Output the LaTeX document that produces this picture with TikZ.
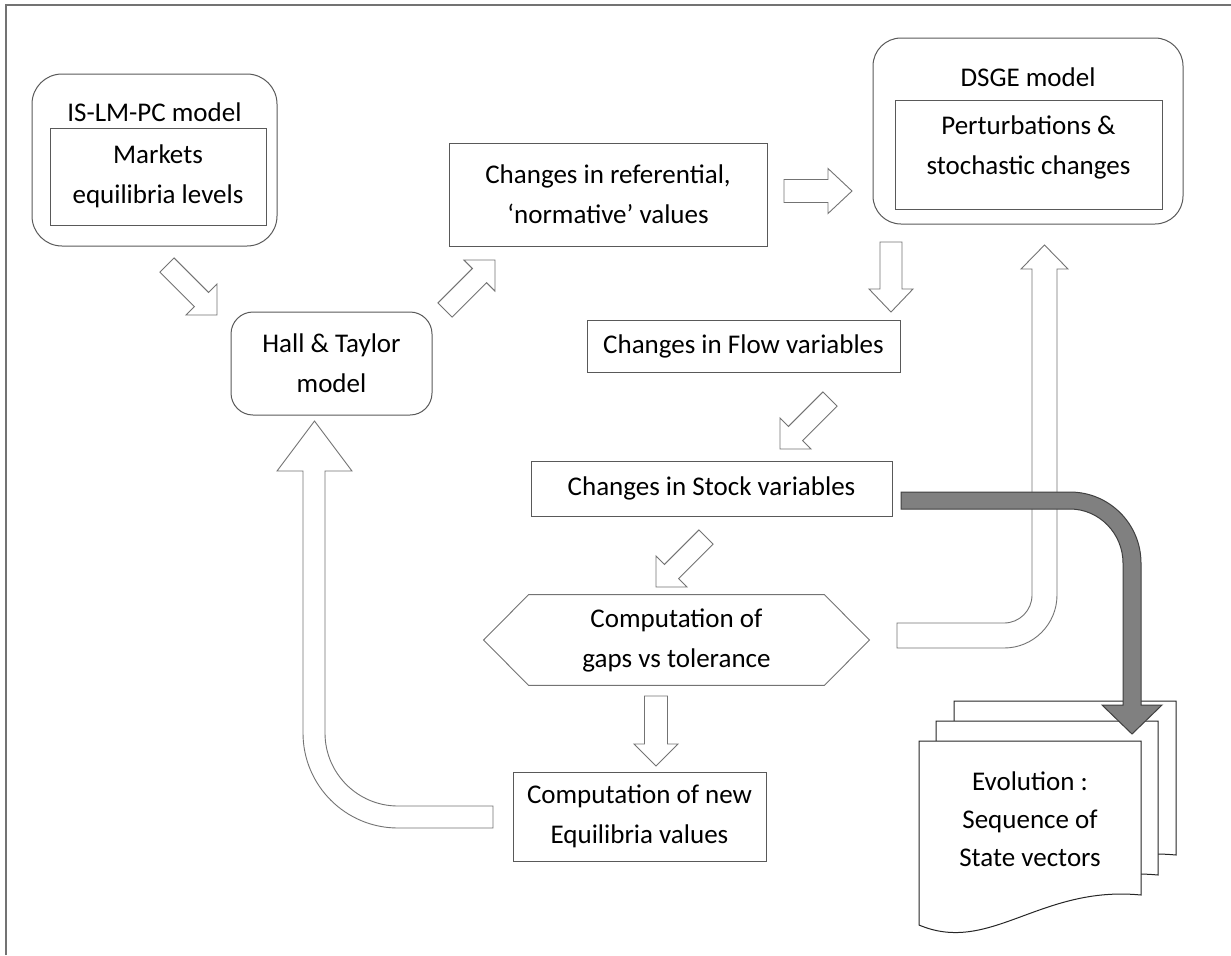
\documentclass[tikz,border=0pt]{standalone}
\usepackage{fontspec}
\setmainfont{Carlito}
\usetikzlibrary{calc}
\tikzstyle{box}=[draw=black!65, line width=0.5pt, inner sep=0pt, align=center,
  font=\fontsize{13.5}{20}\selectfont]
\tikzstyle{roundbox}=[box, rounded corners=15pt]
\tikzstyle{txt}=[inner sep=0pt, align=center, font=\fontsize{13.5}{20}\selectfont]
\tikzstyle{hexa}=[draw=black!55, line width=0.45pt]
\tikzstyle{blk}=[draw=black!55, line width=0.45pt, fill=white]
\tikzstyle{heavy}=[draw=black!75, line width=0.5pt, fill=black!50]
\tikzstyle{sheet}=[draw=black!85, line width=0.5pt, fill=white]
\tikzstyle{frame}=[draw=black!55, line width=0.75pt]
% block arrow: tail, tip, shaft half width, head half width, head length
\newcommand{\blockarrow}[5]{%
  \path ($(#2)!#5!(#1)$) coordinate (bb);
  \path[blk] ($(#1)!#3!90:(#2)$) -- ($(bb)!#3!90:(#2)$) -- ($(bb)!#4!90:(#2)$)
    -- (#2) -- ($(bb)!#4!-90:(#2)$) -- ($(bb)!#3!-90:(#2)$)
    -- ($(#1)!#3!-90:(#2)$) -- cycle;}
% one page of the document stack
\newcommand{\sheet}[2]{%
  \path[sheet, shift={(#1,#2)}] (919,741) -- (1141,741) -- (1141,895)
    .. controls (1040,885) and (990,955) .. (919,925) -- cycle;}

\begin{document}
\begin{tikzpicture}[x=0.5pt,y=-0.5pt]
  \useasboundingbox (0,0) rectangle (1231,955);
  \path[frame] (6,955) -- (6,5) -- (1231,5);

  % Draw diagram elements
  \path (154.5,160) node (islm) [roundbox, minimum width=122.5pt, minimum height=86pt] {};
  \path (154.5,112) node (islmt) [txt] {IS-LM-PC model};
  \path (158,176.5) node (mkt) [box, minimum width=108pt, minimum height=48.5pt]
    {Markets\\equilibria levels};

  \path (331.5,363.5) node (ht) [roundbox, rounded corners=11pt, minimum width=100.5pt,
    minimum height=51.5pt] {Hall \& Taylor\\model};
  \path (608,194.5) node (refv) [box, minimum width=159pt, minimum height=51.5pt]
    {Changes in referential,\\‘normative’ values};

  \path (1028,131) node (dsge) [roundbox, rounded corners=14pt, minimum width=155pt,
    minimum height=93pt] {};
  \path (1028,77) node (dsget) [txt] {DSGE model};
  \path (1028.5,154.5) node (pert) [box, minimum width=133.5pt, minimum height=54.5pt] {};
  \path (1028.5,147.5) node (pertt) [txt] {Perturbations \&\\stochastic changes};

  \path (743.5,346) node (flow) [box, minimum width=156.5pt, minimum height=26pt]
    {Changes in Flow variables};
  \path (711.5,488.5) node (stock) [box, minimum width=180.5pt, minimum height=27.5pt]
    {Changes in Stock variables};

  \path (676.5,640) node (gaps) [txt, minimum width=147.5pt, minimum height=45pt]
    {Computation of\\gaps vs tolerance};
  \path[hexa] (gaps.north west) -- (gaps.north east) -- ($(gaps.east)+(45,0)$)
    -- (gaps.south east) -- (gaps.south west) -- ($(gaps.west)+(-45,0)$) -- cycle;

  \path (639.5,816.5) node (neweq) [box, minimum width=126.5pt, minimum height=44.5pt]
    {Computation of new\\Equilibria values};

  % Document stack
  \sheet{35}{-40}
  \sheet{17}{-20}
  \sheet{0}{0}
  \path (1030,819) node (evol) [txt, font=\fontsize{13.5}{19}\selectfont]
    {Evolution :\\Sequence of\\State vectors};

  % Draw arrows between elements
  \coordinate (a1t) at (167,265);  \coordinate (a1h) at (217,315);
  \coordinate (a2t) at (445,310);  \coordinate (a2h) at (495,260);
  \coordinate (a3t) at (784,191);  \coordinate (a3h) at (852,191);
  \coordinate (a4t) at (891,242);  \coordinate (a4h) at (891,312);
  \coordinate (a5t) at (830,399);  \coordinate (a5h) at (780,449);
  \coordinate (a6t) at (706,537);  \coordinate (a6h) at (656,587);
  \coordinate (a7t) at (656,696);  \coordinate (a7h) at (656,766);

  \blockarrow{a1t}{a1h}{5pt}{11pt}{11pt}
  \blockarrow{a2t}{a2h}{5pt}{11pt}{11pt}
  \blockarrow{a3t}{a3h}{5.75pt}{11.25pt}{12pt}
  \blockarrow{a4t}{a4h}{5.5pt}{11pt}{11.5pt}
  \blockarrow{a5t}{a5h}{5pt}{11pt}{11pt}
  \blockarrow{a6t}{a6h}{5pt}{11pt}{11pt}
  \blockarrow{a7t}{a7h}{5.75pt}{11pt}{11pt}

  % back to Hall & Taylor
  \path[blk] (493,806) -- (398,806) .. controls (357.7,806) and (325,773.3) .. (325,733)
    -- (325,471) -- (352,471) -- (314.5,421) -- (277,471) -- (303,471) -- (303,733)
    .. controls (303,785.5) and (345.5,828) .. (398,828) -- (493,828) -- cycle;

  % back to DSGE
  \path[blk] (897,623) -- (1004,623) .. controls (1019.5,623) and (1032,610.5) .. (1032,595)
    -- (1032,269) -- (1021,269) -- (1044.5,245) -- (1068,269) -- (1057,269) -- (1057,595)
    .. controls (1057,624.3) and (1033.3,648) .. (1004,648) -- (897,648) -- cycle;

  % to the state vectors
  \path[heavy] (901,492) -- (1070,492) .. controls (1109.2,492) and (1141,523.8) .. (1141,563)
    -- (1141,705) -- (1162,705) -- (1132,734) -- (1102,705) -- (1123,705) -- (1123,563)
    .. controls (1123,533.7) and (1099.3,509) .. (1070,509) -- (901,509) -- cycle;
\end{tikzpicture}
\end{document}
